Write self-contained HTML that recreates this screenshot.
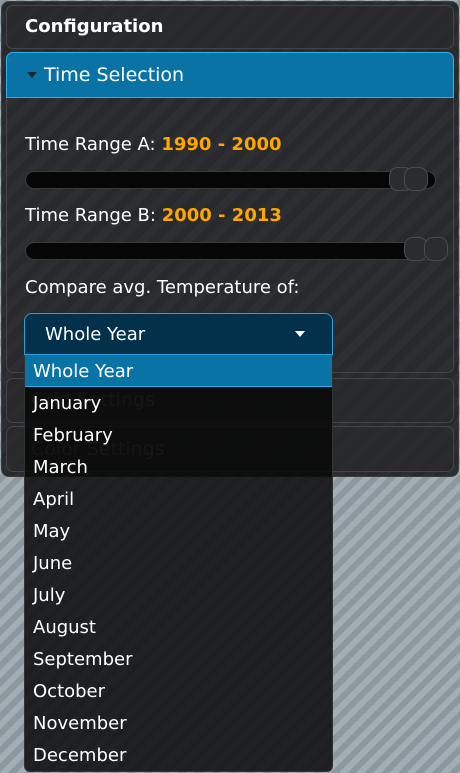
<!DOCTYPE html>
<html><head><meta charset="utf-8"><style>
*{box-sizing:border-box;margin:0;padding:0}
body{width:460px;height:773px;overflow:hidden;position:relative;font-family:"DejaVu Sans","Liberation Sans",sans-serif;color:#fff;
background:repeating-linear-gradient(135deg,#8d979e 0 6px,#a3adb4 6px 12px);}
.abs{position:absolute}
#panel{left:1px;top:1px;width:458px;height:476px;background:repeating-linear-gradient(135deg,#27292c 0 8px,#2c2e31 8px 16px);border-radius:8px;border:1px solid #3a3c40}
.box{border:1px solid #44464a;border-radius:7px;background:rgba(40,41,44,0.6)}
.track{height:18px;background:#060606;border:1px solid #3a3a3a;border-radius:9px}
.handle{width:24px;height:24px;border-radius:9px;background:#2b2c2e;border:1px solid #4a4b4d}
.lbl{font-size:18px;left:25px}
.lbl b{color:#ffa500}
.item{position:absolute;left:0;width:100%;height:32px;line-height:34px;padding-left:8px;font-size:18px}
</style></head><body>
<div id="panel" class="abs"></div>
<div class="abs box" style="left:6px;top:5px;width:448px;height:44px">
 <div class="abs" style="left:18px;top:10px;font-size:18px;font-weight:bold">Configuration</div></div>
<div class="abs" style="left:6px;top:52px;width:448px;height:46px;background:#0a73a5;border:1px solid #2ab0ea;border-radius:7px 7px 0 0">
 <div class="abs" style="left:20px;top:19px;width:0;height:0;border-left:5px solid transparent;border-right:5px solid transparent;border-top:6px solid #1a2630"></div>
 <div class="abs" style="left:37px;top:11px;font-size:19px">Time Selection</div></div>
<div class="abs box" style="left:6px;top:98px;width:448px;height:275px;border-top:none;border-radius:0 0 7px 7px;background:transparent"></div>
<div class="abs lbl" style="top:134px">Time Range A: <b>1990 - 2000</b></div>
<div class="abs track" style="left:25px;top:171px;width:411px"></div>
<div class="abs handle" style="left:389px;top:167px"></div>
<div class="abs handle" style="left:404px;top:167px"></div>
<div class="abs lbl" style="top:205px">Time Range B: <b>2000 - 2013</b></div>
<div class="abs track" style="left:25px;top:242px;width:420px"></div>
<div class="abs handle" style="left:404px;top:237px"></div>
<div class="abs handle" style="left:424px;top:237px"></div>
<div class="abs lbl" style="top:277px">Compare avg. Temperature of:</div>
<div class="abs box" style="left:6px;top:378px;width:448px;height:45px">
 <div class="abs" style="left:24px;top:10px;font-size:19px;color:#666">Grid Settings</div></div>
<div class="abs box" style="left:6px;top:426px;width:448px;height:46px">
 <div class="abs" style="left:24px;top:11px;font-size:19px;color:#666">Color Settings</div></div>
<div class="abs" style="left:24px;top:313px;width:309px;height:42px;background:#03304a;border:1px solid #2aa0dc;border-radius:8px 8px 0 0">
 <div class="abs" style="left:20px;top:10px;font-size:18px">Whole Year</div>
 <div class="abs" style="left:270px;top:17px;width:0;height:0;border-left:5px solid transparent;border-right:5px solid transparent;border-top:6px solid #fff"></div></div>
<div id="list" class="abs" style="left:24px;top:355px;width:309px;height:417px;background:rgba(8,8,8,0.85);border:1px solid #333;border-top:none;border-radius:0 0 6px 6px"></div>
<script>
const months=["Whole Year","January","February","March","April","May","June","July","August","September","October","November","December"];
const list=document.getElementById('list');
months.forEach((m,i)=>{
 const d=document.createElement('div');
 d.className='item';
 d.style.top=(i*32)+'px';
 if(i===0){d.style.background='#0a73a5';d.style.borderBottom='1px solid #2ab0ea';}
 d.textContent=m;
 
 
 list.appendChild(d);
});
</script>
</body></html>
